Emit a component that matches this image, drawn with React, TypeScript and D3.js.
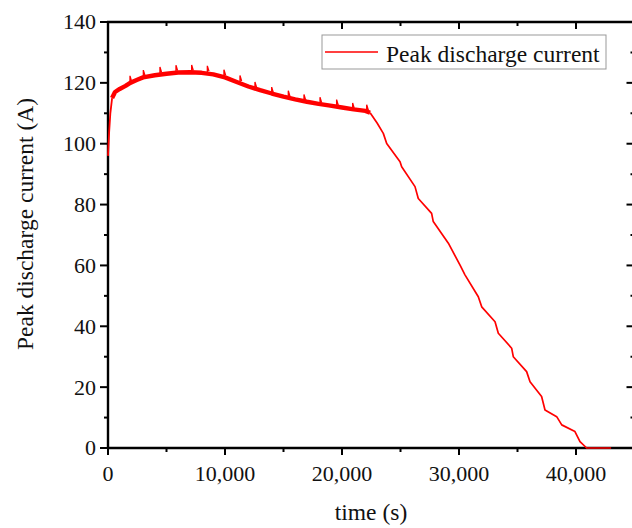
import React, { useEffect } from "react";
import * as d3 from "d3";

// ---- data ----
const times = [
  0, 100, 200, 350, 600, 1000, 1500, 1900, 2500, 3000, 4000, 5000, 6000, 7000,
  8000, 9000, 10000, 11000, 12000, 13000, 14000, 15000, 16000, 17000, 18000,
  19000, 20000, 21000, 22000, 22400, 23000, 23530, 23820, 24960, 25100, 26240,
  26520, 27660, 27800, 29090, 30090, 30510, 31650, 31940, 33080, 33360, 34500,
  34640, 35780, 36070, 37060, 37350, 38350, 38780, 39910, 40340, 40910, 43000,
];
const currents = [
  96, 104, 110, 115, 117, 118, 119, 120, 121, 121.8, 122.5, 123, 123.4, 123.5,
  123.3, 122.8, 121.8, 120.3, 118.8, 117.6, 116.5, 115.5, 114.6, 113.8, 113.1,
  112.5, 111.9, 111.3, 110.8, 110.2, 106.8, 103.4, 100.1, 94.1, 92.4, 85.9,
  82.0, 77.1, 74.4, 67.3, 60.1, 56.9, 49.7, 46.4, 41.5, 37.7, 32.8, 30.0, 25.1,
  21.8, 16.9, 12.5, 10.3, 7.6, 5.4, 2.1, 0, 0,
];
const spikeTimes = [
  1880, 3020, 4440, 5810, 7150, 8490, 9910, 11280, 12560, 13990, 15410, 16750,
  18120, 19540, 20910, 22110,
];
const spikeTops = [
  122.3, 124.2, 125.2, 125.8, 125.9, 125.6, 124.3, 122.4, 120.3, 118.6, 117.4,
  116.2, 115.3, 114.5, 113.4, 112.8,
];
// the plateau region where the recorded signal is noisy (thick band)
const noisyStart = 350;
const noisyEnd = 22400;

const xTicks = [0, 10000, 20000, 30000, 40000];
const xMinor = [5000, 15000, 25000, 35000, 45000];
const yTicks = [0, 20, 40, 60, 80, 100, 120, 140];
const yMinor = [10, 30, 50, 70, 90, 110, 130];
const xTitle = "time (s)";
const yTitle = "Peak discharge current (A)";
const legendLabel = "Peak discharge current";

const FONT = '"Liberation Serif", "Times New Roman", serif';

export default function App() {
  useEffect(() => {
    document.body.style.margin = "0";
  }, []);

  const W = 632;
  const H = 528;
  const x = d3.scaleLinear().domain([0, 45000]).range([108, 634.5]);
  const y = d3.scaleLinear().domain([0, 140]).range([448, 22]);
  const [x0, x1] = x.range();
  const [y0, y1] = y.range();

  const pts: [number, number][] = times.map((t, i) => [t, currents[i]]);
  const line = d3
    .line<[number, number]>()
    .x((d) => x(d[0]))
    .y((d) => y(d[1]));

  const thinStart = pts.filter((d) => d[0] <= noisyStart);
  const noisy = pts.filter((d) => d[0] >= noisyStart && d[0] <= noisyEnd);
  const thinEnd = pts.filter((d) => d[0] >= noisyEnd);

  const fmt = d3.format(",");
  const red = "#ff0000";
  const axisW = 2.4;

  return (
    <svg
      width={W}
      height={H}
      style={{ position: "absolute", left: 0, top: 0, background: "#fff" }}
      fontFamily={FONT}
    >
      <rect x={0} y={0} width={W} height={H} fill="#fff" />

      {/* y ticks left (outward) */}
      {yTicks.map((v) => (
        <g key={"yl" + v}>
          <line x1={x0 - 8} x2={x0} y1={y(v)} y2={y(v)} stroke="#000" strokeWidth={2} />
          <text x={x0 - 12} y={y(v)} dy="0.34em" textAnchor="end" fontSize={22} fill="#111">
            {v}
          </text>
        </g>
      ))}
      {yMinor.map((v) => (
        <line key={"ym" + v} x1={x0 - 4} x2={x0} y1={y(v)} y2={y(v)} stroke="#000" strokeWidth={2} />
      ))}
      {/* right ticks (inward) */}
      {yTicks.map((v) => (
        <line key={"yr" + v} x1={x1 - 8} x2={x1} y1={y(v)} y2={y(v)} stroke="#000" strokeWidth={2} />
      ))}
      {yMinor.map((v) => (
        <line key={"yrm" + v} x1={x1 - 4} x2={x1} y1={y(v)} y2={y(v)} stroke="#000" strokeWidth={2} />
      ))}

      {/* x ticks bottom (outward) */}
      {xTicks.map((v) => (
        <g key={"xb" + v}>
          <line x1={x(v)} x2={x(v)} y1={y0} y2={y0 + 7} stroke="#000" strokeWidth={2} />
          <text x={x(v)} y={481} textAnchor="middle" fontSize={22} fill="#111">
            {fmt(v)}
          </text>
        </g>
      ))}
      {xMinor.map((v) => (
        <line key={"xbm" + v} x1={x(v)} x2={x(v)} y1={y0} y2={y0 + 4} stroke="#000" strokeWidth={2} />
      ))}
      {/* top ticks (inward) */}
      {xTicks.map((v) => (
        <line key={"xt" + v} x1={x(v)} x2={x(v)} y1={y1} y2={y1 + 7} stroke="#000" strokeWidth={2} />
      ))}
      {xMinor.map((v) => (
        <line key={"xtm" + v} x1={x(v)} x2={x(v)} y1={y1} y2={y1 + 4} stroke="#000" strokeWidth={2} />
      ))}

      {/* frame */}
      <line x1={x0} x2={x0} y1={y1 - 1} y2={y0 + 1} stroke="#000" strokeWidth={axisW} />
      <line x1={x1} x2={x1} y1={y1 - 1} y2={y0 + 1} stroke="#000" strokeWidth={axisW} />
      <line x1={x0 - 1} x2={x1 + 1} y1={y0} y2={y0} stroke="#000" strokeWidth={axisW} />
      <line x1={x0 - 1} x2={x1 + 1} y1={y1} y2={y1} stroke="#000" strokeWidth={axisW} />

      {/* data */}
      <path d={line(thinStart) || ""} fill="none" stroke={red} strokeWidth={1.8} />
      <path d={line(noisy) || ""} fill="none" stroke={red} strokeWidth={4.4} strokeLinejoin="round" />
      {spikeTimes.map((t, i) => (
        <path
          key={"sp" + i}
          d={`M${x(t)},${y(spikeTops[i] - 2.2)}L${x(t)},${y(spikeTops[i])}L${x(t + 140)},${y(spikeTops[i] - 1.8)}`}
          fill="none"
          stroke={red}
          strokeWidth={1.3}
        />
      ))}
      <path d={line(thinEnd) || ""} fill="none" stroke={red} strokeWidth={1.7} strokeLinejoin="round" />

      {/* legend */}
      <rect x={322} y={35} width={284} height={34} fill="#fff" stroke="#999" strokeWidth={1} />
      <line x1={325} x2={378} y1={52} y2={52} stroke={red} strokeWidth={1.6} />
      <text x={386} y={62} fontSize={23.5} fill="#111">
        {legendLabel}
      </text>

      {/* titles */}
      <text x={371} y={520} textAnchor="middle" fontSize={23.5} fill="#111">
        {xTitle}
      </text>
      <text
        transform={`translate(33,224) rotate(-90)`}
        textAnchor="middle"
        fontSize={23.5}
        fill="#111"
      >
        {yTitle}
      </text>
    </svg>
  );
}
